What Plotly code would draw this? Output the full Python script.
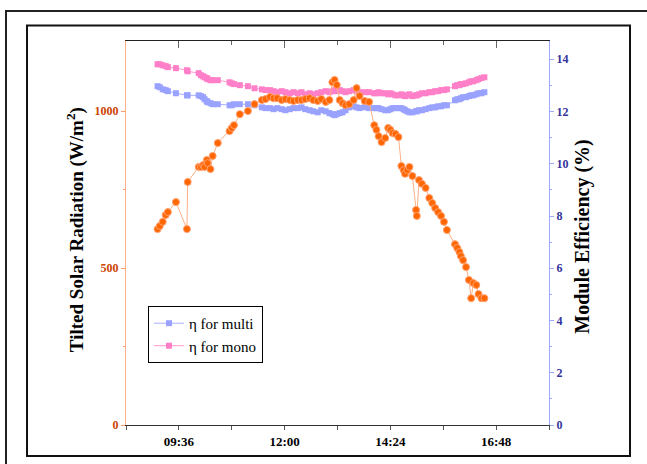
import plotly.graph_objects as go
import pandas as pd

# ---- data ----
times = ["09:07", "09:10", "09:14", "09:18", "09:21", "09:32", "09:47", "09:48", "10:03", "10:06",
         "10:09", "10:11", "10:14", "10:15", "10:19", "10:22", "10:29", "10:45", "10:48", "10:51",
         "10:59", "11:10", "11:19", "11:29", "11:34", "11:40", "11:45", "11:50", "11:56", "12:01",
         "12:07", "12:12", "12:18", "12:23", "12:28", "12:34", "12:39", "12:45", "12:50", "12:56",
         "13:01", "13:05", "13:08", "13:11", "13:15", "13:19", "13:23", "13:28", "13:34", "13:38",
         "13:42", "13:49", "13:55", "14:02", "14:05", "14:08", "14:12", "14:17", "14:21", "14:24",
         "14:27", "14:31", "14:35", "14:39", "14:42", "14:44", "14:47", "14:50", "14:54", "14:59",
         "15:00", "15:03", "15:07", "15:12", "15:17", "15:21", "15:25", "15:29", "15:33", "15:37",
         "15:41", "15:52", "15:55", "15:58", "16:00", "16:03", "16:07", "16:11", "16:14", "16:17",
         "16:21", "16:24", "16:28", "16:32"]

radiation = [624, 634, 647, 669, 678, 710, 624, 774, 822, 822,
             828, 822, 844, 834, 815, 857, 898, 936, 946, 955,
             990, 1000, 1022, 1035, 1038, 1045, 1041, 1041, 1035, 1038,
             1035, 1032, 1035, 1035, 1038, 1041, 1035, 1032, 1038, 1029,
             1035, 1092, 1099, 1083, 1035, 1025, 1019, 1022, 1035, 1073,
             1048, 1032, 1029, 955, 940, 920, 901, 914, 946, 940,
             930, 927, 917, 825, 812, 800, 812, 822, 793, 685,
             666, 780, 768, 755, 723, 707, 691, 678, 666, 647,
             621, 576, 564, 551, 538, 525, 503, 462, 404, 452,
             446, 417, 404, 404]

eff_mono = [13.81, 13.81, 13.77, 13.74, 13.70, 13.66, 13.58, 13.54, 13.47, 13.39,
            13.35, 13.31, 13.28, 13.24, 13.20, 13.20, 13.20, 13.12, 13.08, 13.05,
            13.01, 12.97, 12.89, 12.85, 12.82, 12.82, 12.78, 12.74, 12.78, 12.74,
            12.70, 12.74, 12.70, 12.74, 12.66, 12.70, 12.66, 12.70, 12.74, 12.78,
            12.74, 12.78, 12.82, 12.78, 12.82, 12.78, 12.74, 12.78, 12.82, 12.78,
            12.74, 12.74, 12.74, 12.70, 12.70, 12.74, 12.70, 12.70, 12.66, 12.70,
            12.66, 12.62, 12.62, 12.66, 12.62, 12.59, 12.62, 12.66, 12.59, 12.62,
            12.62, 12.66, 12.70, 12.70, 12.74, 12.74, 12.78, 12.78, 12.82, 12.82,
            12.85, 12.97, 13.01, 13.01, 13.05, 13.05, 13.08, 13.12, 13.16, 13.16,
            13.20, 13.24, 13.28, 13.31]

eff_multi = [12.97, 12.93, 12.85, 12.82, 12.78, 12.70, 12.62, 12.62, 12.62, 12.59,
             12.55, 12.47, 12.40, 12.36, 12.32, 12.28, 12.28, 12.24, 12.24, 12.28,
             12.28, 12.28, 12.24, 12.16, 12.13, 12.13, 12.09, 12.13, 12.09, 12.05,
             12.09, 12.13, 12.13, 12.16, 12.09, 12.05, 12.01, 11.97, 12.05, 12.01,
             11.94, 11.90, 11.86, 11.90, 11.94, 11.97, 12.05, 12.16, 12.20, 12.16,
             12.13, 12.16, 12.13, 12.13, 12.13, 12.13, 12.09, 12.05, 12.05, 12.09,
             12.13, 12.13, 12.13, 12.13, 12.09, 12.05, 12.01, 11.97, 11.97, 12.01,
             12.01, 12.05, 12.05, 12.09, 12.13, 12.16, 12.16, 12.20, 12.20, 12.24,
             12.24, 12.43, 12.47, 12.47, 12.51, 12.55, 12.55, 12.59, 12.62, 12.62,
             12.66, 12.70, 12.70, 12.74]

major_tick_times = ["09:36", "12:00", "14:24", "16:48"]
minor_tick_times = ["08:24", "10:48", "13:12", "15:36", "18:00"]

# ---- helpers ----
DAY = "2000-01-01 "
tx = pd.to_datetime([DAY + t for t in times])
major_dt = [DAY + t for t in major_tick_times]
minor_dt = [DAY + t for t in minor_tick_times]

FONT = "Liberation Serif"

fig = go.Figure()
fig.add_trace(go.Scatter(
    x=tx, y=eff_multi, name="\u03b7 for multi", mode="lines+markers",
    xaxis="x", yaxis="y",
    line=dict(color="#A8B0FF", width=1),
    marker=dict(symbol="square", size=6, color="#9AA2FF"),
))
fig.add_trace(go.Scatter(
    x=tx, y=eff_mono, name="\u03b7 for mono", mode="lines+markers",
    xaxis="x", yaxis="y",
    line=dict(color="#FF99CC", width=1),
    marker=dict(symbol="square", size=6, color="#FF80C8"),
))
fig.add_trace(go.Scatter(
    x=tx, y=radiation, name="Radiation", mode="lines+markers",
    xaxis="x", yaxis="y2", showlegend=False,
    line=dict(color="#FFB088", width=1),
    marker=dict(symbol="circle", size=7, color="#FF6600",
                line=dict(color="#FFA070", width=1)),
))
# carrier for the top tick axis
fig.add_trace(go.Scatter(x=[tx[0]], y=[None], xaxis="x2", yaxis="y",
                         showlegend=False, hoverinfo="skip", mode="markers"))

x_range = [DAY + "08:24", DAY + "18:00"]

fig.update_layout(
    width=647, height=464,
    margin=dict(l=126, r=98, t=41, b=39),
    paper_bgcolor="white", plot_bgcolor="white",
    font=dict(family=FONT, color="black"),
    showlegend=True,
    legend=dict(x=0.052, y=0.31, xanchor="left", yanchor="top",
                bordercolor="black", borderwidth=1, bgcolor="white",
                font=dict(family=FONT, size=15, color="black"),
                tracegroupgap=0, itemwidth=30),
    xaxis=dict(
        type="date", range=x_range, tickmode="array",
        tickvals=major_dt, ticktext=major_tick_times,
        showline=True, linecolor="#333333", linewidth=1,
        ticks="outside", ticklen=4, tickcolor="#555555",
        minor=dict(tickmode="array", tickvals=minor_dt, ticks="outside",
                   ticklen=4, tickcolor="#555555"),
        showgrid=False, zeroline=False,
        tickfont=dict(family=FONT, size=13, color="black", weight="bold"),
    ),
    xaxis2=dict(
        type="date", range=x_range, overlaying="x", side="top", anchor="y",
        tickmode="array", tickvals=major_dt, showticklabels=False,
        showline=True, linecolor="#222222", linewidth=1,
        ticks="inside", ticklen=7, tickcolor="#666666",
        minor=dict(tickmode="array", tickvals=minor_dt, ticks="inside",
                   ticklen=4, tickcolor="#666666"),
        showgrid=False, zeroline=False,
    ),
    yaxis=dict(
        side="right", range=[0, 14.7], tick0=0, dtick=2,
        showline=True, linecolor="#9FA8FF", linewidth=1,
        ticks="outside", ticklen=4, tickcolor="#9FA8FF",
        minor=dict(dtick=1, ticks="outside", ticklen=2, tickcolor="#9FA8FF"),
        showgrid=False, zeroline=False,
        tickfont=dict(family=FONT, size=12, color="#333399", weight="bold"),
    ),
    yaxis2=dict(
        overlaying="y", side="left", range=[0, 1223], tick0=0, dtick=500,
        showline=True, linecolor="#FFB088", linewidth=1,
        ticks="outside", ticklen=4, tickcolor="#FF9966",
        minor=dict(dtick=250, ticks="outside", ticklen=2, tickcolor="#FF9966"),
        showgrid=False, zeroline=False,
        tickfont=dict(family=FONT, size=12, color="#CC4400", weight="bold"),
    ),
    annotations=[
        dict(text="Tilted Solar Radiation (W/m<sup>2</sup>)", xref="paper", yref="paper",
             x=-0.1206, y=0.51, xanchor="center", yanchor="middle",
             textangle=-90, showarrow=False,
             font=dict(family=FONT, size=19, color="black", weight="bold")),
        dict(text="Module Efficiency (%)", xref="paper", yref="paper",
             x=1.080, y=0.49, xanchor="center", yanchor="middle",
             textangle=-90, showarrow=False,
             font=dict(family=FONT, size=20, color="black", weight="bold")),
    ],
    shapes=[
        dict(type="rect", xref="paper", yref="paper",
             x0=-0.2837, y0=-0.13, x1=1.262, y1=1.078,
             line=dict(color="#222222", width=2)),
        dict(type="rect", xref="paper", yref="paper",
             x0=-0.234, y0=-0.0807, x1=1.1915, y1=1.0404,
             line=dict(color="#111111", width=2)),
    ],
)

fig.write_html("out.html")
